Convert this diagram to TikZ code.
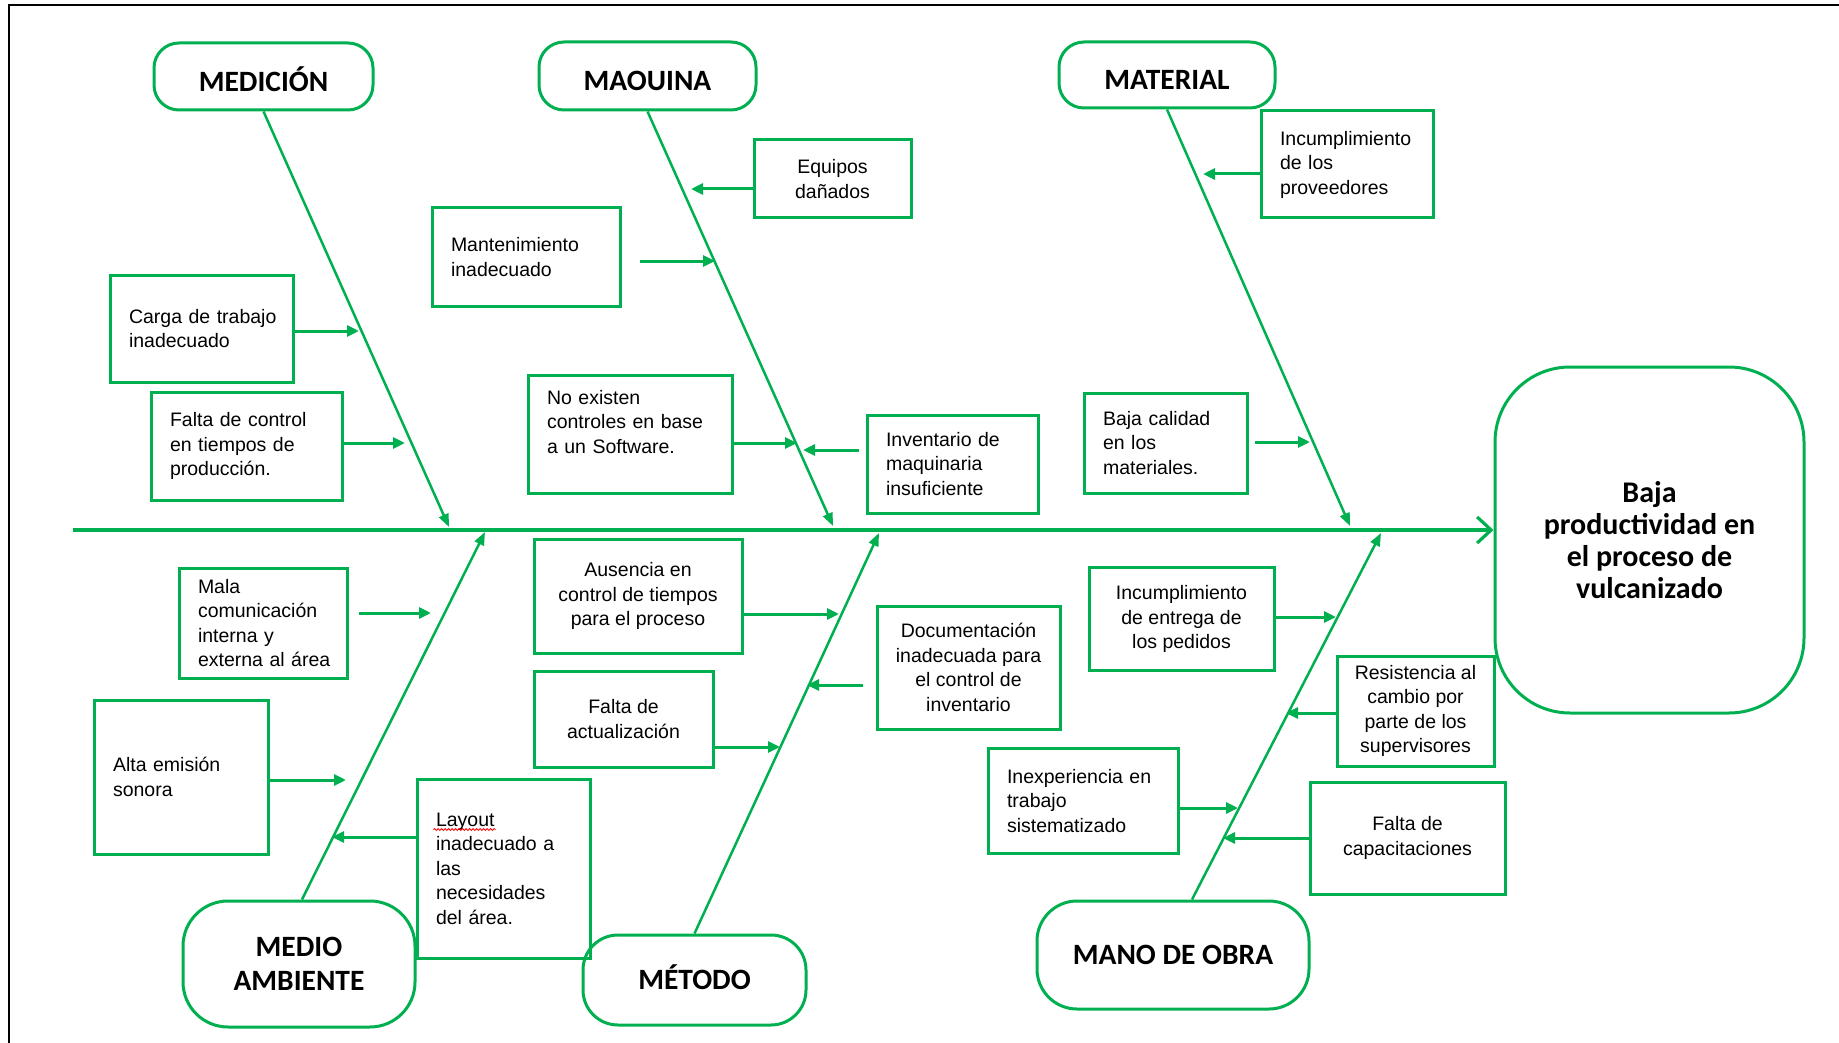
\documentclass[tikz,border=0pt]{standalone}
\usepackage{fontspec}
\setmainfont{Liberation Sans}
\newfontfamily\catfont{Carlito}
\usetikzlibrary{arrows.meta,calc,decorations.pathmorphing}
\definecolor{grn}{RGB}{0,176,80}
% one unbreakable line of box text
\newcommand\bline[1]{\mbox{#1}}

\begin{document}
\begin{tikzpicture}[x=1pt,y=-1pt,
  catbox/.style={draw=grn, line width=3pt, rounded corners=#1, inner sep=0pt, align=center,
    font=\catfont\bfseries\fontsize{29.5}{34.6}\selectfont},
  causebox/.style={draw=grn, line width=3pt, inner ysep=0pt, font=\fontsize{19.5}{24.5}\selectfont},
  lbox/.style={causebox, align=left, inner xsep=19pt, text width=#1},
  cbox/.style={causebox, align=center, inner xsep=0pt},
  bone/.style={draw=grn, line width=2.5pt, -{Triangle[length=13pt,width=10pt]}},
  cause/.style={draw=grn, line width=3pt, -{Triangle[length=12pt,width=11pt]}},
]
\useasboundingbox (0,0) rectangle (1839,1043);

% frame (top and left edges)
\draw[line width=1.8pt] (9,1043) -- (9,5) -- (1839,5);

% effect
\node[catbox=75pt, minimum width=309pt, minimum height=346pt,
      font=\catfont\bfseries\fontsize{30}{32}\selectfont] (eff) at (1649.5,540)
      {Baja\\productividad en\\el proceso de\\vulcanizado};

% categories
\node[catbox=25pt, minimum width=219pt, minimum height=67pt, text height=29.5pt, text depth=0pt] (med) at (263.5,76.5) {MEDICIÓN};
\node[catbox=25pt, minimum width=217pt, minimum height=68pt, text height=29.5pt, text depth=0pt] (maq) at (647.5,76) {MAOUINA};
\node[catbox=25pt, minimum width=216pt, minimum height=66pt, text height=29.5pt, text depth=0pt] (mat) at (1167,75) {MATERIAL};
\node[catbox=45pt, minimum width=232pt, minimum height=126pt] (amb) at (299,964) {MEDIO\\AMBIENTE};
\node[catbox=35pt, minimum width=223pt, minimum height=90pt, text height=19pt, text depth=0pt] (met) at (694.5,980) {MÉTODO};
\node[catbox=40pt, minimum width=272pt, minimum height=108pt, text height=19pt, text depth=0pt] (mob) at (1173,955) {MANO DE OBRA};

% spine
\coordinate (tail) at (73,530);
\draw[draw=grn, line width=3.2pt, -{Straight Barb[length=14pt,width=26pt]}] (tail) -- (eff.west |- tail);

% bones
\coordinate (tMed) at (449,527);
\coordinate (tMaq) at (833,526);
\coordinate (tMat) at (1350,526);
\coordinate (tAmb) at (485,532);
\coordinate (tMet) at (879,533);
\coordinate (tMob) at (1381,533);
\draw[bone] (med.south) -- (tMed);
\draw[bone] (maq.south) -- (tMaq);
\draw[bone] (mat.south) -- (tMat);
\draw[bone] ($(amb.north)+(3,0)$) -- (tAmb);
\draw[bone] (met.north) -- (tMet);
\draw[bone] ($(mob.north)+(19,0)$) -- (tMob);

% causes
\node[lbox=145pt, minimum height=107pt] (carga) at (201.5,328.5) {\bline{Carga de trabajo}\\inadecuado};
\node[lbox=153pt, minimum height=108pt] (fctl) at (246.5,446) {\bline{Falta de control}\\\bline{en tiempos de}\\producción.};
\node[lbox=150pt, minimum height=98pt] (mant) at (526,257) {Mantenimiento\\inadecuado};
\node[cbox, minimum width=157pt, minimum height=78pt] (equip) at (832.5,179) {Equipos\\dañados};
\node[lbox=166pt, minimum height=118pt] (noex) at (630,434) {No existen\\\bline{controles en base}\\\bline{a un Software.}\\[0pt]\mbox{}};
\node[lbox=133pt, minimum height=98pt] (inv) at (952.5,464) {\bline{Inventario de}\\maquinaria\\insuficiente};
\node[lbox=134pt, minimum height=107pt] (prov) at (1347,164.5) {Incumplimiento\\de los\\proveedores};
\node[lbox=125pt, minimum height=100pt] (bcal) at (1165.5,443) {\bline{Baja calidad}\\en los\\materiales.};
\node[lbox=130pt, minimum height=110pt] (mala) at (263,623) {Mala\\comunicación\\\bline{interna y}\\\bline{externa al área}};
\node[lbox=136pt, minimum height=154pt] (alta) at (181,777) {\bline{Alta emisión}\\sonora};
\node[lbox=135pt, minimum height=179pt] (lay) at (503.5,868.5) {Layout\\\bline{inadecuado a}\\las\\necesidades\\\bline{del área.}};
\node[cbox, minimum width=208pt, minimum height=114pt] (aus) at (638,596) {Ausencia en\\control de tiempos\\para el proceso};
\node[cbox, minimum width=179pt, minimum height=96pt] (fact) at (623.5,719) {Falta de\\actualización};
\node[cbox, minimum width=183pt, minimum height=123pt] (doc) at (968.5,667.5) {Documentación\\inadecuada para\\el control de\\inventario};
\node[cbox, minimum width=185pt, minimum height=103pt] (entr) at (1181.5,619) {Incumplimiento\\de entrega de\\los pedidos};
\node[cbox, minimum width=157pt, minimum height=110pt] (res) at (1415.5,711) {Resistencia al\\cambio por\\parte de los\\supervisores};
\node[lbox=152pt, minimum height=105pt] (inex) at (1083,801) {\bline{Inexperiencia en}\\trabajo\\sistematizado};
\node[cbox, minimum width=195pt, minimum height=112pt] (cap) at (1407.5,838) {Falta de\\capacitaciones};

% spell-check mark under "Layout"
\draw[red, line width=0.8pt, decorate, decoration={snake, amplitude=1pt, segment length=3.5pt}]
  ($(lay.north west)+(18,52)$) -- ++(62,0);

% cause arrows onto the bones
\coordinate (a1) at (359,331);
\coordinate (a2) at (405,443);
\coordinate (a3) at (715,261);
\coordinate (a4) at (691,189);
\coordinate (a5) at (797,443);
\coordinate (a6) at (803,450);
\coordinate (a7) at (1203,174);
\coordinate (a8) at (1310,442);
\coordinate (a9) at (431,613);
\coordinate (a10) at (346,780);
\coordinate (a11) at (332,837);
\coordinate (a12) at (839,614);
\coordinate (a13) at (780,747);
\coordinate (a14) at (807,685);
\coordinate (a15) at (1336,617);
\coordinate (a16) at (1286,713);
\coordinate (a17) at (1238,808);
\coordinate (a18) at (1223,838);
\draw[cause] (carga.east |- a1) -- (a1);
\draw[cause] (fctl.east |- a2) -- (a2);
\draw[cause] ($(mant.east |- a3)+(18,0)$) -- (a3);
\draw[cause] (equip.west |- a4) -- (a4);
\draw[cause] (noex.east |- a5) -- (a5);
\draw[cause] ($(inv.west |- a6)+(-7,0)$) -- (a6);
\draw[cause] (prov.west |- a7) -- (a7);
\draw[cause] ($(bcal.east |- a8)+(6,0)$) -- (a8);
\draw[cause] ($(mala.east |- a9)+(10,0)$) -- (a9);
\draw[cause] (alta.east |- a10) -- (a10);
\draw[cause] (lay.west |- a11) -- (a11);
\draw[cause] (aus.east |- a12) -- (a12);
\draw[cause] (fact.east |- a13) -- (a13);
\draw[cause] ($(doc.west |- a14)+(-13,0)$) -- (a14);
\draw[cause] (entr.east |- a15) -- (a15);
\draw[cause] (res.west |- a16) -- (a16);
\draw[cause] (inex.east |- a17) -- (a17);
\draw[cause] (cap.west |- a18) -- (a18);
\end{tikzpicture}
\end{document}
